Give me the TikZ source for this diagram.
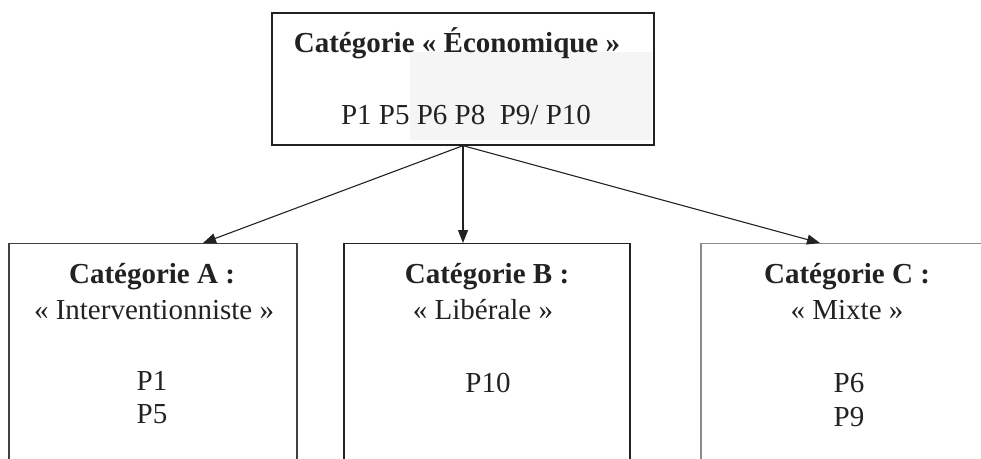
\documentclass[tikz,border=0pt]{standalone}
\usepackage{fontspec}
\setmainfont{Liberation Serif}
\usetikzlibrary{arrows.meta}
\definecolor{ink}{HTML}{222222}
\begin{document}
\begin{tikzpicture}[x=1pt,y=-1pt,
  box/.style={draw=ink, line width=1.3pt, inner sep=0pt},
  lbl/.style={text=ink, inner sep=0pt, anchor=base, font=\fontsize{29}{34}\selectfont},
  hd/.style={lbl, font=\fontsize{29}{34}\selectfont\bfseries},
  link/.style={draw=ink, line width=1.1pt, -{Triangle[length=13pt,width=10pt]}}]
\useasboundingbox (0,0) rectangle (981,458);
\clip (0,0) rectangle (981,458);

% faint grey patch on the scanned title box
\fill[black!4] (410,52) rectangle (652,140);

% title box
\node[box, minimum width=382pt, minimum height=132pt] (top) at (463,79) {};
\node[hd] (topT) at (457,52) {Catégorie « Économique »};
\node[lbl] (topP) at (466,124) {P1 P5 P6 P8\ \ P9/ P10};

% category boxes (open at the lower edge of the page)
\node[box, draw=black!75, minimum width=288pt, minimum height=240pt, anchor=north] (boxA) at (153,243) {};
\node[box, minimum width=286pt, minimum height=240pt, anchor=north] (boxB) at (487,243) {};
\node[box, draw=black!45, minimum width=292pt, minimum height=240pt, anchor=north] (boxC) at (847,243) {};

\node[hd]  (aT) at (152,283) {Catégorie A :};
\node[lbl] (aS) at (154,319) {« Interventionniste »};
\node[lbl] (a1) at (152,390) {P1};
\node[lbl] (a2) at (152,423) {P5};

\node[hd]  (bT) at (487,283) {Catégorie B :};
\node[lbl] (bS) at (483,319) {« Libérale »};
\node[lbl] (b1) at (488,392) {P10};

\node[hd]  (cT) at (847,283) {Catégorie C :};
\node[lbl] (cS) at (847,319) {« Mixte »};
\node[lbl] (c1) at (849,392) {P6};
\node[lbl] (c2) at (849,426) {P9};

% connector end points on the box tops
\coordinate (inA) at (203,243);
\coordinate (inB) at (463,243);
\coordinate (inC) at (820,243);

\draw[link] (top.south) -- (inA);
\draw[link] (top.south) -- (inB);
\draw[link] (top.south) -- (inC);
\end{tikzpicture}
\end{document}
